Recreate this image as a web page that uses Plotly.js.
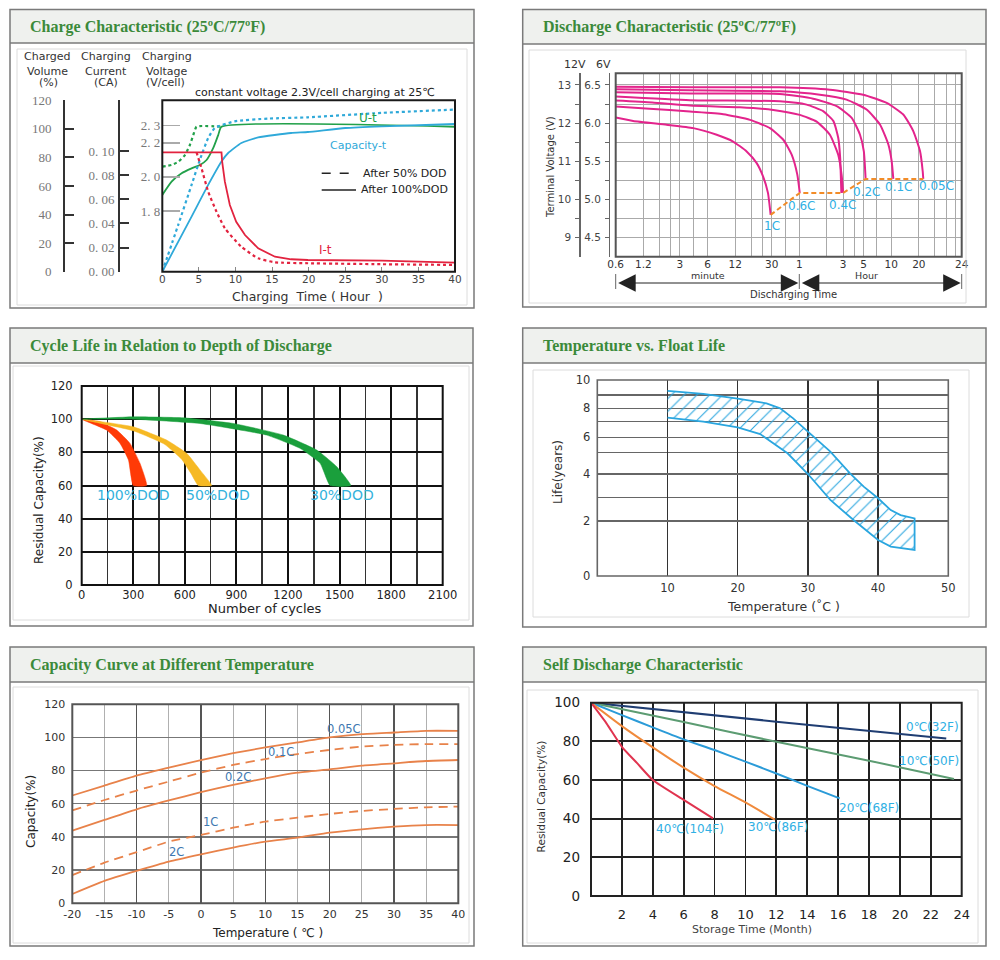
<!DOCTYPE html>
<html><head><meta charset="utf-8">
<script src="https://cdn.plot.ly/plotly-3.0.1.min.js"></script>
<style>html,body{margin:0;padding:0;background:#fff}#chart{width:1000px;height:960px}</style>
</head><body><div id="chart"></div>
<script>
// ================= DATA =================
// Panel 1 - Charge characteristic (x: hours)
const ut100Hours = [0,1.27,2.64,4,5.14,6.05,6.95,7.64,8.09,40];
const ut100Volt  = [1.894,1.972,2.021,2.05,2.07,2.099,2.168,2.245,2.294,2.294];
const ut50Hours  = [0,1.27,2.18,3.09,3.77,4.23,4.68,8.09];
const ut50Volt   = [2.06,2.07,2.089,2.128,2.187,2.245,2.294,2.294];
const cap100Hours = [0,4,6.27,8.09,9,10.8,13.1,17.6,19.9,25,30,40];
const cap100Vol   = [0,38.6,60.8,77.2,83.1,90.1,94,97.1,97.8,100.6,101.8,103.4];
const cap50Hours  = [0,2.18,4,5.14,6.27,7.18,9.9,14.5,19.9,30,40];
const cap50Vol    = [0,32.8,60.8,78.4,93.6,100.6,105.3,107.2,108.1,111.2,113.5];
const it100Hours = [0,8.09,8.18,8.55,9.23,10.1,11.3,13.1,15.4,17.6,19.9,30,40];
const it100Cur   = [0.0989,0.0989,0.0911,0.0746,0.0553,0.0414,0.0304,0.0194,0.0124,0.0103,0.0097,0.0092,0.0075];
const it50Hours  = [4.68,5.36,6.27,7.41,8.55,10.8,13.1,15.4,19.9,30,40];
const it50Cur    = [0.0989,0.0857,0.0663,0.0497,0.036,0.0207,0.0111,0.0078,0.007,0.0062,0.0056];
const volTicks = [0,20,40,60,80,100,120];
const curTicks = [0,0.02,0.04,0.06,0.08,0.10];
const curTickText = ['0. 00','0. 02','0. 04','0. 06','0. 08','0. 10'];
const voltTicks = [1.8,2.0,2.2,2.3];
const voltTickText = ['1. 8','2. 0','2. 2','2. 3'];
const chargeHourTicks = [0,5,10,15,20,25,30,35,40];

// Panel 2 - Discharge characteristic (x: minutes, y: volts of the 6V battery)
const dis005Min = [0.6,3.86,36.8,129,297,536,813,1044,1236,1322,1342];
const dis005V   = [6.478,6.47,6.47,6.439,6.373,6.265,6.113,5.896,5.635,5.374,5.27];
const dis01Min  = [0.6,3.86,36.8,100.5,196,324,453,559,607,633];
const dis01V    = [6.443,6.43,6.418,6.373,6.308,6.178,5.982,5.721,5.505,5.27];
const dis02Min  = [0.6,3.86,36.8,84.9,153,223,274,302,316];
const dis02V    = [6.404,6.39,6.383,6.321,6.222,6.07,5.852,5.635,5.27];
const disXMin   = [0.6,3.86,36.8,72,109,141,159,167,170,172];
const disXV     = [6.348,6.3,6.287,6.243,6.157,6.027,5.809,5.548,5.287,5.087];
const dis04Min  = [0.6,1.5,3.86,13.5,31.2,60.6,92.6,129,159,173,180];
const dis04V    = [6.296,6.27,6.23,6.209,6.174,6.109,6.021,5.848,5.587,5.326,5.087];
const dis06Min  = [0.6,1.4,3.86,8.89,17.4,28.7,40.1,49.5,57,60.6];
const dis06V    = [6.217,6.19,6.152,6.118,6.043,5.935,5.783,5.587,5.326,5.087];
const dis1Min   = [0.6,0.93,2.15,4.2,7.55,11.4,16,20.5,24.2,27.3,29.2];
const dis1V     = [6.074,6.03,5.98,5.935,5.848,5.76,5.63,5.48,5.30,5.087,4.80];
const disEndMin = [29.2,60.6,180,316,1342];
const disEndV   = [4.80,5.087,5.087,5.27,5.27];
const disRates  = ['1C','0.6C','0.4C','0.2C','0.1C','0.05C'];
const disTickMin  = [0.6,1.2,3,6,12,30,60,180,300,600,1200];
const disTickText = ['0.6','1.2','3','6','12','30','1','3','5','10','20','24'];
const disGridMin  = [1.8,2.4,4.2,18,24,42,120,240,420,1800,2400,3000];
const v6Ticks = [4.5,5.0,5.5,6.0,6.5];
const v6Text  = ['4.5','5.0','5.5','6.0','6.5'];
const v6Minor = [4.75,5.25,5.75,6.25];
const v12Ticks = [9,10,11,12,13];
const v12Minor = [9.5,10.5,11.5,12.5];

// Panel 3 - Cycle life (x: cycles, y: residual capacity %)
const dod100OuterX = [0,107,204,281,339,378];
const dod100OuterY = [100,98.4,93.4,85.4,73.4,60];
const dod100InnerX = [0,145,223,272,300];
const dod100InnerY = [100,93.4,85.4,75.4,60];
const dod50OuterX = [0,300,494,611,688,756];
const dod50OuterY = [100,95.4,87.4,79.4,69.4,60];
const dod50InnerX = [0,300,480,580,635,678];
const dod50InnerY = [100,93,85,76,67.4,60];
const dod30OuterX = [0,300,591,882,1173,1367,1483,1565];
const dod30OuterY = [100,101.4,100.8,97.4,90.4,81.4,71.4,60];
const dod30InnerX = [0,300,688,1076,1270,1387,1445];
const dod30InnerY = [100,100,97.4,90.4,82.4,73.4,60];
const dodLabels = ['100%DOD','50%DOD','30%DOD'];
const dodLabelX = [300,795,1512];
const cycleTicks = [0,300,600,900,1200,1500,1800,2100];

// Panel 4 - Temperature vs float life (x: deg C, y: years)
const lifeUpperT = [10,15.1,20,24.1,26.05,27.9,30,33.2,36,37.95,40,41.8,43.2,45.2];
const lifeUpperY = [9.27,9.07,8.73,8.375,8.0,7.25,6.36,5.07,4.03,3.46,2.96,2.46,2.25,2.11];
const lifeLowerT = [10,15.1,20,23.2,25.1,27.1,30,33.2,36.5,40,41.8,45.2];
const lifeLowerY = [7.3,7.0,6.64,6.21,5.6,4.97,4.0,2.89,2.04,1.31,1.07,0.95];
// the life axis of the chart is not linear: grid values and their relative spacing
const lifeAxisYears   = [0,2,3,4,5,6,7,8,9,10];
const lifeAxisSpacing = [0,165,236,306,370,416,463,503,543,588];
const lifeTickYears = [0,2,4,6,8,10];
const lifeMinorYears = [3,5,7,9];
const floatTempTicks = [10,20,30,40,50];

// Panel 5 - Capacity vs temperature
const capTemp = [-20,-15,-10,-5,0,5,10,15,20,25,30,35,40];
const cap005 = [65,71,77,81.8,86.4,90.5,94,97,100,102,103,104,104];
const cap01  = [56,62.3,68,73.4,78.8,83.4,87,90,92.5,94.5,95.5,96,96];
const cap02  = [43.8,50.3,56.7,62,67,71.4,75.4,78.8,80.8,83,84.4,85.8,86.4];
const cap1   = [17,24.5,30.8,37.2,41.2,45.6,49.2,51.7,53.9,55.7,56.9,57.9,58.3];
const cap2   = [5.6,13.5,19.5,25.1,29.5,33.6,37.2,39.6,42.6,44.6,46.2,47.2,47.2];
const capLabels = ['0.05C','0.1C','0.2C','1C','2C'];
const capLabelX = [22.3,12.5,5.7,1.5,-3.8];
const capLabelY = [104.9,91,76.4,48.8,31.2];
const capTempTicks = [-20,-15,-10,-5,0,5,10,15,20,25,30,35,40];

// Panel 6 - Self discharge (x: months)
const sd0Month  = [0,12,23];
const sd0Cap    = [100,90.2,81.5];
const sd10Month = [0,6,12,18,23.5];
const sd10Cap   = [100,90,79.8,70,60.5];
const sd20Month = [0,2,4,6,8,10,12,14,16.1];
const sd20Cap   = [100,93.6,87.2,81,75.5,69.5,63.4,57,50.5];
const sd30Month = [0,2,4,6,8,10,11.9];
const sd30Cap   = [100,87.9,76.9,66.4,56.9,48.4,39.5];
const sd40Month = [0,1,2,3,4,6,7.9];
const sd40Cap   = [100,89.3,77.2,68.6,60,49.7,40.2];
const sdLabels = ['0℃(32F)','10℃(50F)','20℃(68F)','30℃(86F)','40℃(104F)'];
const sdLabelX = [22.1,21.9,18,12.1,6.4];
const sdLabelY = [87.6,70,45.7,35.5,34.5];
const monthTicks = [2,4,6,8,10,12,14,16,18,20,22,24];

// ================= HELPERS =================
const W = 1000, H = 960;
const PX = v => v / W;
const PY = v => 1 - v / H;
const xDom = (a, b) => [a / W, b / W];
const yDom = (top, bot) => [1 - bot / H, 1 - top / H];
const SANS = 'DejaVu Sans, Verdana, sans-serif';
const SERIF = 'Liberation Serif, Times New Roman, serif';
const TITLE_GREEN = '#3b8a3a';
function lifePos(v) {
  for (let i = 1; i < lifeAxisYears.length; i++) {
    if (v <= lifeAxisYears[i]) {
      const a = lifeAxisYears[i-1], b = lifeAxisYears[i];
      return lifeAxisSpacing[i-1] + (v - a) / (b - a) * (lifeAxisSpacing[i] - lifeAxisSpacing[i-1]);
    }
  }
  return lifeAxisSpacing[lifeAxisSpacing.length - 1];
}
function ann(x, y, text, size, color, extra) {
  return Object.assign({xref:'paper', yref:'paper', x:PX(x), y:PY(y), text:text, showarrow:false,
    font:{family:SANS, size:size, color:color}, xanchor:'center', yanchor:'middle'}, extra || {});
}
function line(x, y, color, width, dash, xa, ya, shape) {
  return {type:'scatter', x:x, y:y, mode:'lines', xaxis:xa, yaxis:ya, hoverinfo:'skip',
    line:{color:color, width:width, dash:dash || 'solid', shape:shape || 'spline', smoothing:0.5}};
}

// ================= TRACES =================
const C_G = '#22a14a', C_B = '#2fa9d9', C_R = '#e2233f';
const traces = [];
// panel 1
traces.push(line(ut50Hours, ut50Volt, C_G, 2.2, 'dot', 'x', 'y'));
traces.push(line(ut100Hours, ut100Volt, C_G, 1.8, 'solid', 'x', 'y'));
traces.push(line(cap50Hours, cap50Vol, C_B, 2.2, 'dot', 'x', 'y2'));
traces.push(line(cap100Hours, cap100Vol, C_B, 1.8, 'solid', 'x', 'y2'));
traces.push(line(it50Hours, it50Cur, C_R, 2.2, 'dot', 'x', 'y3'));
traces.push(line(it100Hours, it100Cur, C_R, 1.8, 'solid', 'x', 'y3', 'linear'));
// panel 2
const MAG = '#e3248c';
[[dis005Min,dis005V],[dis01Min,dis01V],[dis02Min,dis02V],[disXMin,disXV],[dis04Min,dis04V],[dis06Min,dis06V],[dis1Min,dis1V]]
  .forEach(p => traces.push(line(p[0], p[1], MAG, 2, 'solid', 'x2', 'y4')));
traces.push(line(disEndMin, disEndV, '#f28c28', 2, '5px,3px', 'x2', 'y4', 'linear'));
// empty trace so that the 12V scale (an overlay with no own series) is drawn
traces.push({type:'scatter', x:[], y:[], xaxis:'x2', yaxis:'y5', mode:'lines', hoverinfo:'skip'});
// panel 3
function band(ox, oy, ix, iy, color) {
  return {type:'scatter', x:ox.concat(ix.slice().reverse()), y:oy.concat(iy.slice().reverse()),
    xaxis:'x3', yaxis:'y6', mode:'lines', fill:'toself', fillcolor:color,
    line:{color:color, width:0.5, shape:'spline', smoothing:0.4}, hoverinfo:'skip'};
}
traces.push(band(dod100OuterX, dod100OuterY, dod100InnerX, dod100InnerY, '#ff3a06'));
traces.push(band(dod50OuterX, dod50OuterY, dod50InnerX, dod50InnerY, '#f6b924'));
traces.push(band(dod30OuterX, dod30OuterY, dod30InnerX, dod30InnerY, '#1a9f3c'));
// panel 4
traces.push({type:'scatter', x:lifeUpperT.concat(lifeLowerT.slice().reverse()),
  y:lifeUpperY.concat(lifeLowerY.slice().reverse()).map(lifePos), xaxis:'x4', yaxis:'y7',
  mode:'lines', fill:'toself', fillcolor:'rgba(0,0,0,0)',
  fillpattern:{shape:'/', fgcolor:'#2aa6df', bgcolor:'rgba(255,255,255,0)', size:9, solidity:0.12},
  line:{color:'#2aa6df', width:1.8}, hoverinfo:'skip'});
// panel 5
const ORG = '#e8824a';
traces.push({type:'scatter', x:[], y:[], xaxis:'x7', yaxis:'y8', mode:'lines', hoverinfo:'skip'});
traces.push(line(capTemp, cap005, ORG, 1.8, 'solid', 'x5', 'y8'));
traces.push(line(capTemp, cap01, ORG, 1.8, '9px,6px', 'x5', 'y8'));
traces.push(line(capTemp, cap02, ORG, 1.8, 'solid', 'x5', 'y8'));
traces.push(line(capTemp, cap1, ORG, 1.8, '9px,6px', 'x5', 'y8'));
traces.push(line(capTemp, cap2, ORG, 1.8, 'solid', 'x5', 'y8'));
// panel 6
traces.push(line(sd0Month, sd0Cap, '#1f3d72', 2, 'solid', 'x6', 'y9'));
traces.push(line(sd10Month, sd10Cap, '#5c9c72', 2, 'solid', 'x6', 'y9'));
traces.push(line(sd20Month, sd20Cap, '#2b9bd8', 2, 'solid', 'x6', 'y9'));
traces.push(line(sd30Month, sd30Cap, '#f08a3c', 2, 'solid', 'x6', 'y9'));
traces.push(line(sd40Month, sd40Cap, '#e0344f', 2, 'solid', 'x6', 'y9'));

// ================= LAYOUT =================
const shapes = [];
const annotations = [];
function panel(x0, y0, x1, y1, hb, ix0, iy0, ix1, iy1, title) {
  shapes.push({type:'rect', xref:'paper', yref:'paper', x0:PX(x0), x1:PX(x1), y0:PY(y0), y1:PY(hb), fillcolor:'#eff1ee', line:{width:0}, layer:'below'});
  shapes.push({type:'line', xref:'paper', yref:'paper', x0:PX(x0), x1:PX(x1), y0:PY(hb), y1:PY(hb), line:{color:'#7a7a7a', width:1.5}});
  shapes.push({type:'rect', xref:'paper', yref:'paper', x0:PX(x0), x1:PX(x1), y0:PY(y0), y1:PY(y1), line:{color:'#7a7a7a', width:1.5}});
  shapes.push({type:'rect', xref:'paper', yref:'paper', x0:PX(ix0), x1:PX(ix1), y0:PY(iy0), y1:PY(iy1), line:{color:'#dcdcdc', width:1}});
  annotations.push(ann(x0 + 18.3, (y0 + hb) / 2 + 0.5, '<b>' + title + '</b>', 16, TITLE_GREEN, {xanchor:'left', font:{family:SERIF, size:16, color:TITLE_GREEN}}));
}
panel(10, 9.5, 474, 308, 43, 17, 49, 467, 305, 'Charge Characteristic (25ºC/77ºF)');
panel(522.7, 9.5, 986, 307, 44, 529, 50, 966, 303, 'Discharge Characteristic (25ºC/77ºF)');
panel(10, 328, 473, 626, 363, 13, 366, 469, 620, 'Cycle Life in Relation to Depth of Discharge');
panel(522.7, 328, 986, 627, 363, 533, 370, 969, 617, 'Temperature vs. Float Life');
panel(10, 647, 474, 946, 682, 13, 687, 469, 943, 'Capacity Curve at Different Temperature');
panel(522.7, 647, 986, 946, 682, 527, 690, 978, 943, 'Self Discharge Characteristic');

function border(xa, ya, color, width) {
  shapes.push({type:'rect', xref:xa + ' domain', yref:ya + ' domain', x0:0, x1:1, y0:0, y1:1, line:{color:color, width:width}, layer:'above'});
}
border('x', 'y', '#1a1a1a', 2);
border('x2', 'y4', '#555', 2);
border('x3', 'y6', '#111', 2);
border('x4', 'y7', '#666', 1.6);
border('x5', 'y8', '#555', 2);
border('x6', 'y9', '#222', 2);

// panel 1 texts
[['Charged',46.7,56],['Volume',47,71],['(%)',48,82.7],['Charging',106,56],['Current',106,71],['(CA)',106,82.7],
 ['Charging',166.7,56],['Voltage',166,71],['(V/cell)',165.7,82.7]].forEach(t => annotations.push(ann(t[1], t[2], t[0], 11, '#333')));
annotations.push(ann(315.3, 92, 'constant voltage 2.3V/cell charging at 25℃', 11, '#222'));
annotations.push(ann(307.5, 296, 'Charging  Time ( Hour  )', 12.5, '#333'));
annotations.push(ann(368.3, 118.3, 'U-t', 12, C_G));
annotations.push(ann(358.3, 145.7, 'Capacity-t', 11, C_B));
annotations.push(ann(325, 250, 'I-t', 12, C_R));
annotations.push(ann(361, 173.3, 'After 50% DOD', 11, '#222', {xanchor:'left'}));
annotations.push(ann(359.3, 190, 'After 100%DOD', 11, '#222', {xanchor:'left'}));
shapes.push({type:'line', xref:'paper', yref:'paper', x0:PX(321.7), x1:PX(353.3), y0:PY(173.3), y1:PY(173.3), line:{color:'#222', width:1.5, dash:'dash'}});
shapes.push({type:'line', xref:'paper', yref:'paper', x0:PX(321.7), x1:PX(356), y0:PY(190), y1:PY(190), line:{color:'#222', width:1.5}});

// panel 2 texts
annotations.push(ann(575, 64.3, '12V', 11, '#333'));
annotations.push(ann(603.3, 64.3, '6V', 11, '#333'));
annotations.push(ann(550, 167, 'Terminal Voltage (V)', 10, '#333', {textangle:-90}));
const rateLabelPos = [[771.7,226],[801.7,206],[842.3,205],[866.7,191.7],[898.3,186.7],[936,186]];
disRates.forEach((r, i) => annotations.push(ann(rateLabelPos[i][0], rateLabelPos[i][1], r, 12, '#2fb0e4')));
annotations.push(ann(707.7, 276, 'minute', 9.5, '#333', {yanchor:'bottom', y:PY(282), borderpad:0}));
annotations.push(ann(866.7, 276, 'Hour', 9.5, '#333', {yanchor:'bottom', y:PY(282), borderpad:0}));
annotations.push(ann(793.3, 294, 'Discharging Time', 10, '#333'));
annotations.push({xref:'paper', yref:'paper', x:PX(798.3), y:PY(283), ax:-181.6, ay:0, axref:'pixel', ayref:'pixel', text:'', showarrow:true,
  arrowhead:2, arrowside:'end+start', arrowsize:3.5, arrowwidth:1, arrowcolor:'#222', standoff:0, startstandoff:0});
annotations.push({xref:'paper', yref:'paper', x:PX(960.7), y:PY(283), ax:-160.4, ay:0, axref:'pixel', ayref:'pixel', text:'', showarrow:true,
  arrowhead:2, arrowside:'end+start', arrowsize:3.5, arrowwidth:1, arrowcolor:'#222', standoff:0, startstandoff:0});
[615.7, 799.3, 961.7].forEach(x => shapes.push({type:'line', xref:'paper', yref:'paper', x0:PX(x), x1:PX(x), y0:PY(274), y1:PY(289), line:{color:'#666', width:1}}));

// panel 3 texts
annotations.push(ann(265, 608.5, 'Number of cycles', 13, '#222'));
annotations.push(ann(39, 500, 'Residual Capacity(%)', 12, '#222', {textangle:-90}));
dodLabels.forEach((t, i) => annotations.push({xref:'x3', yref:'y6', x:dodLabelX[i], y:54.4, text:t, showarrow:false,
  font:{family:SANS, size:14, color:'#33b2dc'}}));

// panel 4 texts
annotations.push(ann(558, 472, 'Life(years)', 12, '#333', {textangle:-90}));
annotations.push(ann(783, 606, 'Temperature (˚C )', 12.5, '#333'));

// panel 5 texts
annotations.push(ann(31, 812, 'Capacity(%)', 12, '#222', {textangle:-90}));
annotations.push(ann(267, 933, 'Temperature ( ℃ )', 12, '#222'));
capLabels.forEach((t, i) => annotations.push({xref:'x5', yref:'y8', x:capLabelX[i], y:capLabelY[i], text:t, showarrow:false,
  font:{family:SANS, size:11.5, color:'#3e78b0'}}));

// panel 6 texts
annotations.push(ann(540.7, 796.7, 'Residual Capacity(%)', 10.5, '#333', {textangle:-90}));
annotations.push(ann(751.7, 929, 'Storage Time (Month)', 11, '#444'));
sdLabels.forEach((t, i) => annotations.push({xref:'x6', yref:'y9', x:sdLabelX[i], y:sdLabelY[i], text:t, showarrow:false,
  font:{family:SANS, size:12, color:'#2fb0e4'}}));

const base = {zeroline:false, showgrid:false, showline:false, fixedrange:true};
const disRange = [Math.log10(0.6), Math.log10(0.6) + 3.768];
const disEdge = Math.pow(10, disRange[1]) * 0.9995;

const layout = {
  width:W, height:H, margin:{l:0, r:0, t:0, b:0}, showlegend:false,
  paper_bgcolor:'#fff', plot_bgcolor:'rgba(0,0,0,0)',
  shapes:shapes, annotations:annotations,
  // panel 1
  xaxis: Object.assign({}, base, {domain:xDom(162.3,455), range:[0,40], anchor:'y', tickvals:chargeHourTicks,
    ticks:'inside', ticklen:5, tickcolor:'#888', tickfont:{family:SANS, size:10.5, color:'#444'}, ticklabelstandoff:0}),
  yaxis: Object.assign({}, base, {domain:yDom(100.3,271.7), range:[1.444,2.449], anchor:'x', tickvals:voltTicks, ticktext:voltTickText,
    ticks:'inside', ticklen:18, tickcolor:'#aaa', tickwidth:1.5, tickfont:{family:SERIF, size:13, color:'#777'}, ticklabelstandoff:1}),
  yaxis2: Object.assign({}, base, {overlaying:'y', anchor:'free', position:0.064, side:'left', range:[0,120], tickvals:volTicks,
    ticks:'inside', ticklen:9, tickwidth:2, tickcolor:'#333', showline:true, linecolor:'#333', linewidth:2,
    tickfont:{family:SERIF, size:13, color:'#777'}, ticklabelstandoff:9}),
  yaxis3: Object.assign({}, base, {overlaying:'y', anchor:'free', position:0.119, side:'left', range:[0,0.142],
    tickvals:curTicks.concat([0.1415]), ticktext:curTickText.concat(['']),
    ticks:'inside', ticklen:9, tickwidth:2, tickcolor:'#333', showline:true, linecolor:'#333', linewidth:2,
    tickfont:{family:SERIF, size:13, color:'#777'}, ticklabelstandoff:1}),
  // panel 2
  xaxis2: Object.assign({}, base, {domain:xDom(615.7,961.7), type:'log', range:disRange, anchor:'y4',
    tickvals:disTickMin.concat([disEdge]), ticktext:disTickText, ticks:'', showgrid:true, gridcolor:'#aaa', gridwidth:1,
    minor:{tickvals:disGridMin, showgrid:true, gridcolor:'#aaa', gridwidth:1, ticks:''},
    tickfont:{family:SANS, size:10.5, color:'#333'}, ticklabelstandoff:0}),
  yaxis4: Object.assign({}, base, {domain:yDom(73.3,256.7), range:[4.252,6.653], anchor:'free', position:0.609, side:'left',
    tickvals:v6Ticks, ticktext:v6Text, ticks:'outside', ticklen:4, tickcolor:'#666', showline:true, linecolor:'#666', linewidth:1.3,
    showgrid:true, gridcolor:'#aaa', gridwidth:1,
    minor:{tickvals:v6Minor, ticks:'outside', ticklen:4, tickcolor:'#666', showgrid:true, gridcolor:'#aaa', gridwidth:1},
    tickfont:{family:SANS, size:10.5, color:'#444'}, ticklabelstandoff:2}),
  yaxis5: Object.assign({}, base, {overlaying:'y4', anchor:'free', position:0.5793, side:'left', range:[8.504,13.306],
    tickvals:v12Ticks, ticks:'outside', ticklen:4, tickcolor:'#666', showline:true, linecolor:'#666', linewidth:1.3,
    minor:{tickvals:v12Minor, ticks:'outside', ticklen:4, tickcolor:'#666', showgrid:false},
    tickfont:{family:SANS, size:10.5, color:'#444'}, ticklabelstandoff:2}),
  // panel 3
  xaxis3: Object.assign({}, base, {domain:xDom(81.7,442.7), range:[0,2100], anchor:'y6', tickvals:cycleTicks, ticks:'',
    showgrid:true, gridcolor:'#111', gridwidth:2, minor:{dtick:150, tick0:0, showgrid:true, gridcolor:'#333', gridwidth:1.5, ticks:''},
    tickfont:{family:SANS, size:11.5, color:'#222'}, ticklabelstandoff:1}),
  yaxis6: Object.assign({}, base, {domain:yDom(386,585), range:[0,120], anchor:'x3', dtick:20, ticks:'',
    showgrid:true, gridcolor:'#111', gridwidth:2, tickfont:{family:SANS, size:11.5, color:'#222'}, ticklabelstandoff:8}),
  // panel 4
  xaxis4: Object.assign({}, base, {domain:xDom(597.3,948.3), range:[0,50], anchor:'y7', tickvals:floatTempTicks, ticks:'',
    showgrid:true, gridcolor:'#333', gridwidth:1.5, tickfont:{family:SANS, size:11.5, color:'#333'}, ticklabelstandoff:3}),
  yaxis7: Object.assign({}, base, {domain:yDom(380,576), range:[0,588], anchor:'x4',
    tickvals:lifeTickYears.map(lifePos), ticktext:lifeTickYears.map(String), ticks:'',
    showgrid:true, gridcolor:'#666', gridwidth:1.3,
    minor:{tickvals:lifeMinorYears.map(lifePos), showgrid:true, gridcolor:'#666', gridwidth:1.3, ticks:''},
    tickfont:{family:SANS, size:11.5, color:'#333'}, ticklabelstandoff:6}),
  // panel 5
  xaxis5: Object.assign({}, base, {domain:xDom(72.3,458.3), range:[-20,40], anchor:'y8', tickvals:capTempTicks,
    ticktext:capTempTicks.map(String), ticks:'', showgrid:true, gridcolor:'#b0b0b0', gridwidth:1,
    tickfont:{family:SANS, size:11, color:'#333'}, ticklabelstandoff:3}),
  xaxis7: Object.assign({}, base, {overlaying:'x5', anchor:'y8', range:[-20,40], dtick:10, tick0:0, ticks:'',
    showticklabels:false, showgrid:true, gridcolor:'#555', gridwidth:1.5}),
  yaxis8: Object.assign({}, base, {domain:yDom(704.3,903.3), range:[0,120], anchor:'x5', dtick:20, ticks:'',
    showgrid:true, gridcolor:'#777', gridwidth:1.3, tickfont:{family:SANS, size:11, color:'#333'}, ticklabelstandoff:6}),
  // panel 6
  xaxis6: Object.assign({}, base, {domain:xDom(591,961.7), range:[0,24], anchor:'y9', tickvals:monthTicks, ticks:'',
    showgrid:true, gridcolor:'#222', gridwidth:1.8, tickfont:{family:SANS, size:13, color:'#222'}, ticklabelstandoff:9}),
  yaxis9: Object.assign({}, base, {domain:yDom(702.7,896), range:[0,100], anchor:'x6', dtick:20, ticks:'',
    showgrid:true, gridcolor:'#222', gridwidth:1.8, tickfont:{family:SANS, size:13.5, color:'#222'}, ticklabelstandoff:10})
};

Plotly.newPlot('chart', traces, layout, {staticPlot:true, displayModeBar:false});
</script></body></html>
